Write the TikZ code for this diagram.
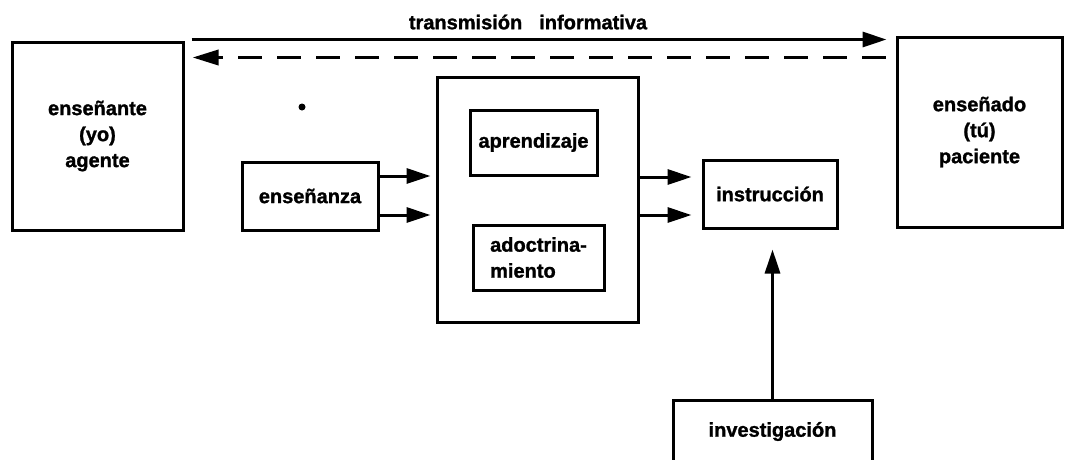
\documentclass[tikz,border=0pt]{standalone}
\usepackage{fontspec}
\setmainfont{Liberation Sans}[BoldFeatures={FakeBold=1.3}]
\usetikzlibrary{arrows.meta}
\begin{document}
\begin{tikzpicture}[x=1pt,y=-1pt,
  txt/.style={font=\bfseries\fontsize{20}{26}\selectfont},
  box/.style={draw, line width=3pt, inner sep=0pt, align=center, txt},
  arr/.style={line width=3pt, -{Triangle[length=24pt,width=15pt]}},
  dasharr/.style={line width=3.5pt, dash pattern=on 24pt off 15pt, -{Triangle[length=26pt,width=15pt]}}]
\useasboundingbox (0,0) rectangle (1071,459);
\clip (0,0) rectangle (1071,459);
% outer boxes
\node[box, minimum width=171pt, minimum height=188pt] (ag) at (97.5,136) {enseñante\\(yo)\\agente};
\node[box, minimum width=165pt, minimum height=190pt] (pa) at (979.5,132) {enseñado\\(tú)\\paciente};
% inner diagram
\node[box, minimum width=136pt, minimum height=68pt] (ens) at (310,196) {enseñanza};
\node[box, minimum width=201pt, minimum height=245pt] (big) at (537.5,199.5) {};
\node[box, minimum width=127pt, minimum height=65pt] (apr) at (533.5,142.5) {aprendizaje};
\node[box, minimum width=131pt, minimum height=65pt, align=left] (ado) at (538.5,257.5) {adoctrina-\\miento};
\node[box, minimum width=134pt, minimum height=68pt] (ins) at (770,194) {instrucción};
\node[box, minimum width=199pt, minimum height=63pt] (inv) at (772.5,431.5) {investigación};
% label
\node[txt] (lab) at (528,22) {transmisión\hspace{17pt}informativa};
% stray dot
\fill (302,107) circle (3.5pt);
% top arrows
\draw[arr, shorten <=7pt, shorten >=9pt] ([yshift=1pt]ag.north east) -- ([yshift=1pt]ag.north east -| pa.west);
\draw[dasharr, shorten <=10pt, shorten >=8pt] ([yshift=-17pt]ag.north east -| pa.west) -- ([yshift=-17pt]ag.north east);
% enseñanza -> big
\draw[arr, shorten >=5pt] ([yshift=20pt]ens.east) -- ([yshift=20pt]ens.east -| big.west);
\draw[arr, shorten >=5pt] ([yshift=-19pt]ens.east) -- ([yshift=-19pt]ens.east -| big.west);
% big -> instrucción
\draw[arr, shorten >=10pt] ([yshift=22.5pt]big.east) -- ([yshift=22.5pt]big.east -| ins.west);
\draw[arr, shorten >=10pt] ([yshift=-15.5pt]big.east) -- ([yshift=-15.5pt]big.east -| ins.west);
% investigación -> instrucción
\draw[arr, shorten >=20pt] (inv.north) -- (inv.north |- ins.south);
\end{tikzpicture}
\end{document}
